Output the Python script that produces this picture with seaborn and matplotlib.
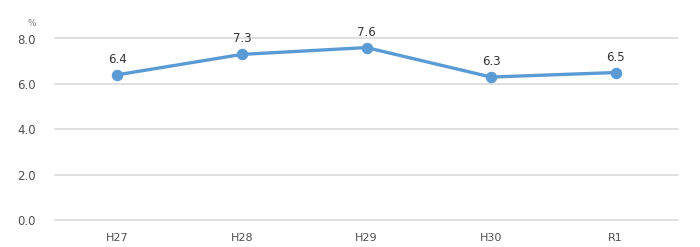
import matplotlib
matplotlib.use("Agg")
import matplotlib.pyplot as plt
import seaborn as sns
import pandas as pd

categories = ["H27", "H28", "H29", "H30", "R1"]
values = [6.4, 7.3, 7.6, 6.3, 6.5]
yticks = [0.0, 2.0, 4.0, 6.0, 8.0]

sns.set_theme(style="white")
plt.rcParams['font.family'] = ['DejaVu Sans']

df = pd.DataFrame({"cat": categories, "val": values})

fig = plt.figure(figsize=(7.0, 2.47), dpi=100)
ax = fig.add_axes([55/700, 1-220/247, (678-55)/700, (220-38.5)/247])

for t in yticks:
    ax.axhline(t, color="#D9D9D9", lw=1.2, zorder=0, clip_on=False)

sns.lineplot(data=df, x="cat", y="val", ax=ax, color="#5B9BD5", lw=2.4,
             marker="o", markersize=7.5, markeredgecolor="#5B9BD5",
             markerfacecolor="#5B9BD5", sort=False, zorder=3)

for i, v in enumerate(values):
    ax.annotate(f"{v:.1f}", (i, v), xytext=(0, 6.5), textcoords="offset points",
                ha="center", va="bottom", fontsize=8.5, color="#333333")

ax.set_xlim(-0.5, len(categories) - 0.5)
ax.set_ylim(0, 8)
ax.set_yticks(yticks)
ax.set_yticklabels([f"{t:.1f}" for t in yticks])
ax.set_xlabel("")
ax.set_ylabel("")
ax.tick_params(axis="y", length=0, pad=14, labelsize=8.5, labelcolor="#505050")
ax.tick_params(axis="x", length=0, pad=9, labelsize=8, labelcolor="#505050")
for s in ax.spines.values():
    s.set_visible(False)
ax.grid(False)

fig.text(32/700, 1-23/247, "%", ha="center", va="center", fontsize=6.5, color="#7F7F7F")

fig.savefig("out.png", dpi=100)
